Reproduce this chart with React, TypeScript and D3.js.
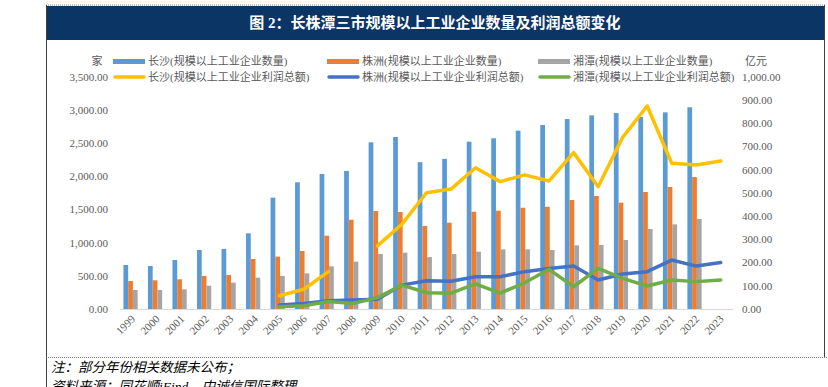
import React from 'react'
import * as d3 from 'd3'

const years = ['1999', '2000', '2001', '2002', '2003', '2004', '2005', '2006', '2007', '2008', '2009', '2010', '2011', '2012', '2013', '2014', '2015', '2016', '2017', '2018', '2019', '2020', '2021', '2022', '2023']

// 企业数量 (家)
const csCount = [664, 649, 739, 890, 905, 1142, 1680, 1911, 2037, 2082, 2515, 2595, 2215, 2265, 2524, 2575, 2690, 2776, 2866, 2921, 2957, 2897, 2967, 3043, null]
const zzCount = [422, 433, 448, 498, 513, 754, 790, 875, 1106, 1347, 1478, 1463, 1252, 1302, 1468, 1483, 1528, 1543, 1644, 1705, 1604, 1765, 1840, 1991, null]
const xtCount = [287, 287, 297, 352, 397, 473, 498, 538, 644, 714, 830, 850, 784, 830, 865, 900, 900, 890, 960, 966, 1041, 1207, 1277, 1358, null]

// 利润总额 (亿元)
const csProfit = [null, null, null, null, null, null, 57, 85, 161, null, 272, 366, 501, 517, 609, 549, 578, 552, 674, 527, 740, 875, 628, 621, 638]
const zzProfit = [null, null, null, null, null, null, 17, 24, 36, 39, 42, 103, 122, 120, 139, 139, 161, 175, 185, 125, 151, 161, 211, 185, 200]
const xtProfit = [null, null, null, null, null, null, 10, 14, 32, 24, 49, 103, 70, 68, 108, 68, 113, 171, 96, 175, 132, 99, 125, 118, 125]

const leftTicks = [0, 500, 1000, 1500, 2000, 2500, 3000, 3500]
const rightTicks = [0, 100, 200, 300, 400, 500, 600, 700, 800, 900, 1000]

const barSeries = [
  { name: '长沙(规模以上工业企业数量)', values: csCount, color: '#5B9BD5' },
  { name: '株洲(规模以上工业企业数量)', values: zzCount, color: '#ED7D31' },
  { name: '湘潭(规模以上工业企业数量)', values: xtCount, color: '#A5A5A5' },
]
const lineSeries = [
  { name: '长沙(规模以上工业企业利润总额)', values: csProfit, color: '#FFC000' },
  { name: '株洲(规模以上工业企业利润总额)', values: zzProfit, color: '#4472C4' },
  { name: '湘潭(规模以上工业企业利润总额)', values: xtProfit, color: '#70AD47' },
]

const tickFont = '"Liberation Serif", "Noto Sans CJK SC", serif'
const textColor = '#595959'

const App = () => {
  const W = 828
  const H = 387
  const plot = { left: 120, right: 733, top: 77, bottom: 309 }

  const x = d3.scaleBand().domain(years).range([plot.left, plot.right]).padding(0)
  const xSub = d3.scaleBand()
    .domain(barSeries.map(s => s.name))
    .range([x.bandwidth() * 0.14, x.bandwidth() * 0.72])
  const yL = d3.scaleLinear().domain([0, 3500]).range([plot.bottom, plot.top])
  const yR = d3.scaleLinear().domain([0, 1000]).range([plot.bottom, plot.top])
  const fmt = d3.format(',.2f')

  const line = d3.line<number | null>()
    .defined(d => d != null)
    .x((d, i) => (x(years[i]) ?? 0) + x.bandwidth() / 2)
    .y(d => yR(d as number))

  const legendCols = [113, 327, 538]

  return (
    <svg width={W} height={H} style={{ position: 'absolute', left: 0, top: 0, background: '#fff' }}>
      {/* frame */}
      <line x1={46} x2={825} y1={5} y2={5} stroke="#7f7f7f" strokeDasharray="1,1" />
      <rect x={46} y={6} width={779} height={34} fill="#0b3565" />
      <text x={435} y={28} textAnchor="middle" fill="#fff" fontSize={15} fontWeight="bold"
        fontFamily={tickFont}>图 2：长株潭三市规模以上工业企业数量及利润总额变化</text>
      <line x1={46.5} x2={46.5} y1={5} y2={H} stroke="#404040" />
      <line x1={824.5} x2={824.5} y1={5} y2={357} stroke="#404040" />
      <line x1={46} x2={W} y1={357.5} y2={357.5} stroke="#7f7f7f" strokeDasharray="1,1" />
      <text x={51} y={372} fontSize={13.5} fontStyle="italic" fontFamily={tickFont} fill="#000">注：部分年份相关数据未公布；</text>
      <text x={51} y={391} fontSize={13.5} fontStyle="italic" fontFamily={tickFont} fill="#000">资料来源：同花顺iFind，中诚信国际整理</text>

      {/* axes */}
      {leftTicks.map(t => (
        <text key={'l' + t} x={108} y={yL(t)} dy="0.35em" textAnchor="end" fontSize={11}
          fontFamily={tickFont} fill={textColor}>{fmt(t)}</text>
      ))}
      {rightTicks.map(t => (
        <text key={'r' + t} x={742} y={yR(t)} dy="0.35em" textAnchor="start" fontSize={11}
          fontFamily={tickFont} fill={textColor}>{fmt(t)}</text>
      ))}
      <text x={97} y={61} dy="0.35em" textAnchor="middle" fontSize={11} fontFamily={tickFont} fill={textColor}>家</text>
      <text x={745} y={61} dy="0.35em" fontSize={11} fontFamily={tickFont} fill={textColor}>亿元</text>
      {years.map(yr => {
        const cx = (x(yr) ?? 0) + x.bandwidth() / 2 + 1
        return (
          <text key={'x' + yr} transform={`translate(${cx},${plot.bottom + 8}) rotate(-45)`}
            textAnchor="end" dy="0.35em" fontSize={11} fontFamily={tickFont} fill={textColor}>{yr}</text>
        )
      })}

      {/* bars */}
      {barSeries.map(s => (
        <g key={s.name}>
          {s.values.map((v, i) => v == null ? null : (
            <rect key={i} x={(x(years[i]) ?? 0) + (xSub(s.name) ?? 0)} width={xSub.bandwidth()}
              y={yL(v)} height={plot.bottom - yL(v)} fill={s.color} />
          ))}
        </g>
      ))}
      <line x1={plot.left} x2={plot.right} y1={plot.bottom + 0.5} y2={plot.bottom + 0.5} stroke="#d9d9d9" />

      {/* lines */}
      {lineSeries.map(s => (
        <path key={s.name} d={line(s.values) ?? ''} fill="none" stroke={s.color} strokeWidth={3.5}
          strokeLinejoin="round" strokeLinecap="round" />
      ))}

      {/* legend */}
      {barSeries.map((s, i) => (
        <g key={'lg' + s.name}>
          <rect x={legendCols[i]} y={59} width={32} height={5} fill={s.color} />
          <text x={legendCols[i] + 35} y={61} dy="0.35em" fontSize={11} fontFamily={tickFont} fill={textColor}>{s.name}</text>
        </g>
      ))}
      {lineSeries.map((s, i) => (
        <g key={'ll' + s.name}>
          <line x1={legendCols[i] + 2} x2={legendCols[i] + 31} y1={77} y2={77} stroke={s.color}
            strokeWidth={3.5} strokeLinecap="round" />
          <text x={legendCols[i] + 35} y={77} dy="0.35em" fontSize={11} fontFamily={tickFont} fill={textColor}>{s.name}</text>
        </g>
      ))}
    </svg>
  )
}

export default App
